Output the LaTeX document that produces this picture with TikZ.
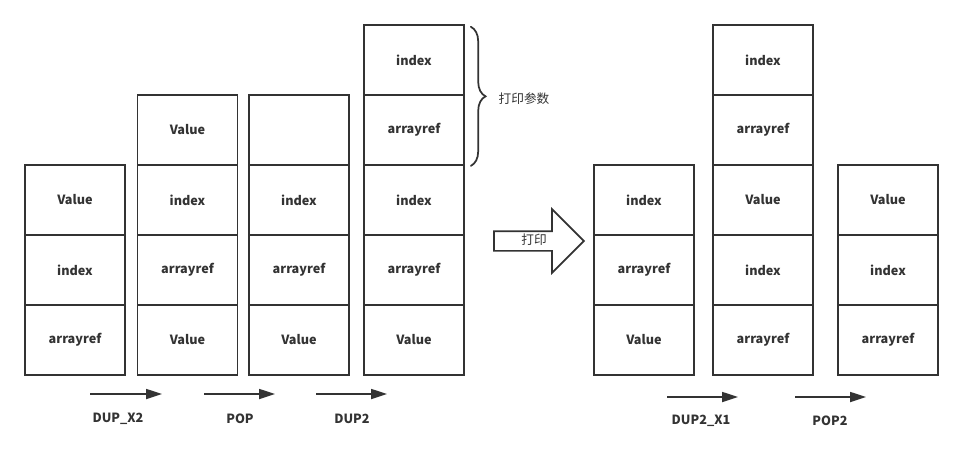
\documentclass[tikz,border=0pt]{standalone}
\usepackage{fontspec}
\setmainfont{Noto Sans CJK SC}
\usetikzlibrary{arrows.meta,shapes.arrows,decorations.pathreplacing}
\definecolor{ink}{HTML}{333333}
\tikzset{
  cell/.style={draw=ink, line width=1.3pt, minimum width=75pt, minimum height=52.5pt,
    inner sep=0pt, text=ink, font=\bfseries\fontsize{9.5}{11}\selectfont},
  op/.style={draw=ink, line width=1.3pt, -{Triangle[length=12pt,width=7.5pt]}},
  oplabel/.style={text=ink, font=\bfseries\fontsize{9.5}{11}\selectfont}
}

\begin{document}
\begin{tikzpicture}[x=0.75pt,y=-0.75pt]
\useasboundingbox (0,0) rectangle (964,465);

% before DUP_X2
\node[cell] (11) at (75,340) {arrayref};
\node[cell] (12) at (75,270) {index};
\node[cell] (13) at (75,200) {Value};

% after DUP_X2
\node[cell] (21) at (187.5,340) {Value};
\node[cell] (22) at (187.5,270) {arrayref};
\node[cell] (23) at (187.5,200) {index};
\node[cell] (24) at (187.5,130) {Value};

% after POP
\node[cell] (31) at (299,340) {Value};
\node[cell] (32) at (299,270) {arrayref};
\node[cell] (33) at (299,200) {index};
\node[cell] (34) at (299,130) {};

% after DUP2
\node[cell] (41) at (414,340) {Value};
\node[cell] (42) at (414,270) {arrayref};
\node[cell] (43) at (414,200) {index};
\node[cell] (44) at (414,130) {arrayref};
\node[cell] (45) at (414,60) {index};

\draw[ink, line width=1.3pt, line cap=round, decorate, decoration={brace, amplitude=11pt}]
  ([xshift=4.5pt,yshift=-2pt]45.north east) -- ([xshift=4.5pt]44.south east);
\node[anchor=west, text=ink, font=\fontsize{9.5}{11}\selectfont] (args) at (494,99) {打印参数};

\node[single arrow, draw=ink, line width=1.3pt, text=ink, minimum height=67.5pt,
  minimum width=46.5pt, single arrow head extend=16.5pt, single arrow tip angle=90,
  text height=7pt, text depth=2pt, inner ysep=2.25pt, inner xsep=2pt,
  font=\fontsize{9.5}{11}\selectfont] (print) at (534,241) {打印};

% printed stack
\node[cell] (51) at (644,340) {Value};
\node[cell] (52) at (644,270) {arrayref};
\node[cell] (53) at (644,200) {index};

% after DUP2_X1
\node[cell] (61) at (763,340) {arrayref};
\node[cell] (62) at (763,270) {index};
\node[cell] (63) at (763,200) {Value};
\node[cell] (64) at (763,130) {arrayref};
\node[cell] (65) at (763,60) {index};

% after POP2
\node[cell] (71) at (888,340) {arrayref};
\node[cell] (72) at (888,270) {index};
\node[cell] (73) at (888,200) {Value};

% instructions
\coordinate (s1) at (90,394);  \coordinate (e1) at (162,394);
\coordinate (s2) at (204,394); \coordinate (e2) at (275,394);
\coordinate (s3) at (316,394); \coordinate (e3) at (387,394);
\coordinate (s4) at (667,397); \coordinate (e4) at (738,397);
\coordinate (s5) at (795,397); \coordinate (e5) at (866,397);
\draw[op] (s1) -- (e1);
\draw[op] (s2) -- (e2);
\draw[op] (s3) -- (e3);
\draw[op] (s4) -- (e4);
\draw[op] (s5) -- (e5);

\node[oplabel] (dupx2) at (118,419) {DUP\_X2};
\node[oplabel] (pop) at (240,419) {POP};
\node[oplabel] (dup2) at (352,419) {DUP2};
\node[oplabel] (dup2x1) at (701,421) {DUP2\_X1};
\node[oplabel] (pop2) at (830,421) {POP2};
\end{tikzpicture}
\end{document}
